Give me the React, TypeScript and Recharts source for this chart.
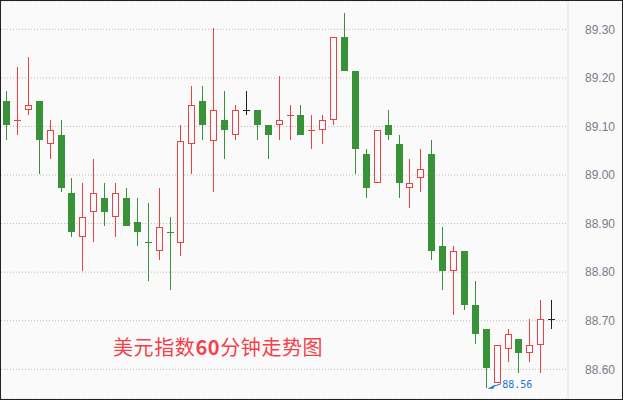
import React from 'react';
import { ComposedChart, Bar, XAxis, YAxis, CartesianGrid, ReferenceDot } from 'recharts';

// 60-minute candles, oldest first (last slot on the axis stays empty)
const opens = [89.152, 89.112, 89.133, 89.152, 89.063, 89.082, 88.963, 88.872, 88.923, 88.953,
  88.913, 88.953, 88.903, 88.862, 88.843, 88.883, 88.861, 89.063, 89.152, 89.071,
  89.113, 89.082, 89.133, 89.133, 89.103, 89.102, 89.122, 89.123, 89.091, 89.092,
  89.113, 89.284, 89.214, 89.043, 88.983, 89.103, 89.064, 88.973, 88.993, 89.043,
  88.854, 88.802, 88.844, 88.732, 88.683, 88.571, 88.641, 88.662, 88.633, 88.651, 88.703];
const closes = [89.103, 89.113, 89.144, 89.073, 89.092, 88.974, 88.883, 88.913, 88.962, 88.924,
  88.962, 88.894, 88.883, 88.861, 88.892, 88.882, 89.071, 89.144, 89.103, 89.133,
  89.093, 89.133, 89.133, 89.103, 89.083, 89.113, 89.123, 89.083, 89.092, 89.113,
  89.284, 89.215, 89.054, 88.974, 89.092, 89.083, 88.984, 88.983, 89.012, 88.844,
  88.803, 88.843, 88.733, 88.673, 88.603, 88.651, 88.672, 88.634, 88.651, 88.704, 88.703];
const highs = [89.173, 89.222, 89.243, 89.153, 89.113, 89.113, 88.994, 88.984, 89.033, 88.984,
  88.984, 88.973, 88.953, 88.942, 88.973, 88.914, 89.102, 89.183, 89.183, 89.302,
  89.173, 89.144, 89.173, 89.133, 89.103, 89.204, 89.144, 89.144, 89.123, 89.123,
  89.284, 89.333, 89.214, 89.054, 89.092, 89.134, 89.082, 89.033, 89.054, 89.072,
  88.893, 88.854, 88.844, 88.782, 88.683, 88.651, 88.683, 88.662, 88.704, 88.743, 88.743];
const lows = [89.073, 89.083, 89.124, 89.003, 89.034, 88.964, 88.873, 88.803, 88.863, 88.894,
  88.873, 88.894, 88.854, 88.782, 88.824, 88.764, 88.834, 89.003, 89.073, 88.964,
  89.034, 89.073, 89.124, 89.073, 89.034, 89.073, 89.073, 89.083, 89.054, 89.064,
  89.103, 89.215, 89.003, 88.953, 88.983, 89.073, 88.953, 88.933, 88.964, 88.824,
  88.764, 88.712, 88.723, 88.653, 88.562, 88.571, 88.614, 88.593, 88.614, 88.593, 88.683];
const yTicks = [88.6, 88.7, 88.8, 88.9, 89.0, 89.1, 89.2, 89.3];
const title = ['美元指数', '60', '分钟走势图'];

const RED = '#e84343';
const GREEN = '#389238';
const BLACK = '#222222';
const BG = '#fafafa';

const data = [
  ...opens.map((o, i) => ({
    t: String(i),
    open: o,
    close: closes[i],
    high: highs[i],
    low: lows[i],
    range: [lows[i], highs[i]],
  })),
  { t: 'next', open: null, close: null, high: null, low: null, range: null },
];

const minIdx = lows.indexOf(Math.min(...lows));

const Candle = (props: any) => {
  const { x, y, width, height, payload } = props;
  if (!payload || payload.high == null) return <g />;
  const { open, close, high, low } = payload;
  const top = Math.min(y, y + height);
  const h = Math.abs(height);
  const py = (v: number) => top + ((high - v) / (high - low || 1)) * h;
  const cx = Math.floor(x + width / 2) + 0.5;
  const color = close > open ? RED : close < open ? GREEN : BLACK;
  const bt = Math.round(Math.min(py(open), py(close)));
  const bb = Math.round(Math.max(py(open), py(close)));
  const yh = Math.round(top);
  const yl = Math.round(top + h);
  return (
    <g>
      <line x1={cx} x2={cx} y1={yh} y2={yl} stroke={color} strokeWidth={1} />
      {bb - bt <= 1 ? (
        <line x1={cx - 3.5} x2={cx + 3.5} y1={bt + 0.5} y2={bt + 0.5} stroke={color} strokeWidth={1} />
      ) : color === RED ? (
        <rect x={cx - 3} y={bt + 0.5} width={6} height={bb - bt - 1} fill={BG} stroke={RED} strokeWidth={1} />
      ) : (
        <rect x={cx - 3.5} y={bt} width={7} height={bb - bt} fill={GREEN} />
      )}
    </g>
  );
};

const LowMark = (props: any) => {
  const { cx, cy } = props;
  const tx = cx + 1;
  const ty = cy + 1;
  return (
    <g>
      <polygon points={`${tx},${ty} ${tx + 8},${ty - 4} ${tx + 6},${ty}`} fill="#1a78d0" />
      <line x1={tx + 5} y1={ty - 2} x2={tx + 14} y2={ty - 5} stroke="#1a78d0" strokeWidth={1} />
      <text x={cx + 16} y={cy + 0.5} fill="#1a78d0" fontSize={10} fontFamily="DejaVu Sans Mono">
        {lows[minIdx].toFixed(2)}
      </text>
    </g>
  );
};

export default function App() {
  return (
    <div
      style={{
        position: 'relative',
        width: 623,
        height: 400,
        boxSizing: 'border-box',
        border: '1px solid #222',
        background: BG,
      }}
    >
      <style>{'body{margin:0}'}</style>
      <ComposedChart width={621} height={398} data={data} margin={{ top: 0, right: 0, bottom: 0, left: 0 }}>
        <CartesianGrid horizontal vertical={false} stroke="#bbbbbb" strokeDasharray="1 2" />
        <XAxis dataKey="t" hide padding={{ left: 0, right: 0 }} />
        <YAxis
          orientation="right"
          width={54}
          domain={[88.5388, 89.3583]}
          allowDataOverflow
          ticks={yTicks}
          tickFormatter={(v: number) => v.toFixed(2)}
          tick={{ fill: '#7b7b8b', fontSize: 12, fontFamily: 'Liberation Sans' }}
          tickLine={false}
          tickSize={0}
          tickMargin={17}
          axisLine={{ stroke: '#dddddd' }}
        />
        <Bar dataKey="range" barSize={7} shape={<Candle />} isAnimationActive={false} />
        <ReferenceDot
          x={String(minIdx)}
          y={lows[minIdx]}
          r={0}
          ifOverflow="visible"
          shape={<LowMark />}
        />
      </ComposedChart>
      <div
        style={{
          position: 'absolute',
          left: 112,
          top: 336,
          fontFamily: '"Noto Sans CJK SC"',
          fontSize: 20,
          lineHeight: '20px',
          letterSpacing: 0.6,
          color: '#f4404a',
          whiteSpace: 'nowrap',
        }}
      >
        {title[0]}
        <span style={{ fontWeight: 'bold' }}>{title[1]}</span>
        {title[2]}
      </div>
    </div>
  );
}
